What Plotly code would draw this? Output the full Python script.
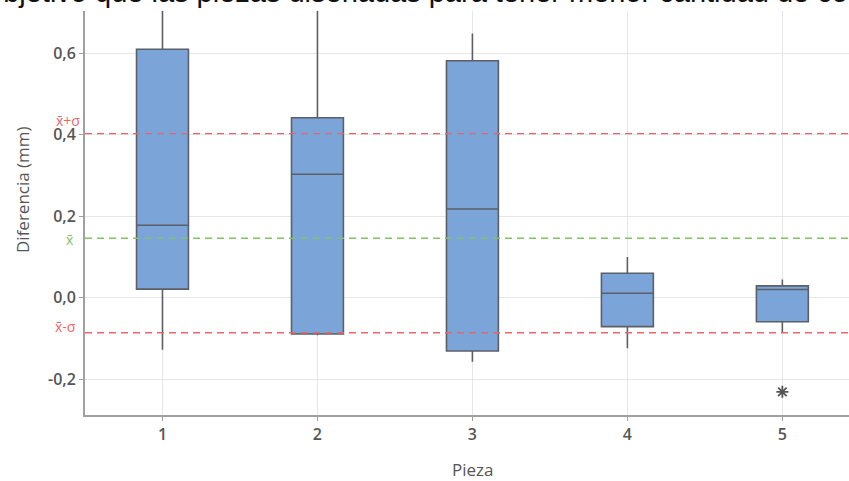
import plotly.graph_objects as go

# ---- data ----
piezas = [1, 2, 3, 4, 5]
q1 = [0.021, -0.089, -0.131, -0.071, -0.059]
mediana = [0.178, 0.303, 0.218, 0.011, 0.020]
q3 = [0.610, 0.442, 0.582, 0.060, 0.029]
bigote_inf = [-0.128, -0.092, -0.157, -0.124, -0.086]
bigote_sup = [0.80, 0.80, 0.649, 0.100, 0.045]
atipico_x = [5]
atipico_y = [-0.231]

media = 0.146
media_mas_sigma = 0.403
media_menos_sigma = -0.086

y_ticks = [-0.2, 0.0, 0.2, 0.4, 0.6]
y_ticktext = ["-0,2", "0,0", "0,2", "0,4", "0,6"]
x_ticktext = ["1", "2", "3", "4", "5"]

GRAY = "#555555"
RED = "#ec6466"
GREEN = "#82c262"
W, H = 849, 481
ML, MR, MT, MB = 85, 0, 11, 66
PW, PH = W - ML - MR, H - MT - MB

fig = go.Figure()

fig.add_trace(go.Box(
    x=piezas, q1=q1, median=mediana, q3=q3,
    lowerfence=bigote_inf, upperfence=bigote_sup,
    width=0.335, whiskerwidth=0,
    fillcolor="#7ba5d9", line=dict(color="#5c5f66", width=1.6),
    boxpoints=False, showlegend=False, hoverinfo="skip",
))

fig.add_trace(go.Scatter(
    x=atipico_x, y=atipico_y, mode="markers",
    marker=dict(symbol="asterisk-open", size=10, color="#555555",
                line=dict(color="#555555", width=1.8)),
    showlegend=False, hoverinfo="skip",
))

for val, col in [(media_mas_sigma, RED), (media, GREEN), (media_menos_sigma, RED)]:
    fig.add_shape(type="line", xref="paper", yref="y", x0=0, x1=1, y0=val, y1=val,
                  line=dict(color=col, width=1.4, dash="7px,5px"), layer="above")

labels = [("x̄+σ", media_mas_sigma, RED, 13, 82), ("x̄", media, GREEN, -1, 76),
          ("x̄-σ", media_menos_sigma, RED, 6, 78)]
for txt, val, col, ys, xr in labels:
    fig.add_annotation(text=txt, xref="paper", yref="y", x=(xr - ML) / PW, y=val,
                       xanchor="right", yanchor="middle", yshift=ys, showarrow=False,
                       font=dict(family="Open Sans", size=14, color=col))

# y-axis title
fig.add_annotation(text="Diferencia (mm)", xref="paper", yref="paper",
                   x=(23 - ML) / PW, y=(H - MB - 190) / PH,
                   textangle=-90, showarrow=False, xanchor="center", yanchor="middle",
                   font=dict(family="Open Sans", size=17, color=GRAY))

# x-axis title
fig.add_annotation(text="Pieza", xref="paper", yref="paper",
                   x=(472 - ML) / PW, y=-(470 - (H - MB)) / PH,
                   showarrow=False, xanchor="center", yanchor="middle",
                   font=dict(family="Open Sans", size=17, color=GRAY))

# cropped text at the top of the picture
fig.add_annotation(text="objetivo que las piezas diseñadas para tener menor cantidad de co",
                   xref="paper", yref="paper", x=(-15 - ML) / PW, y=1,
                   xanchor="left", yanchor="bottom", yshift=1, showarrow=False,
                   font=dict(family="Liberation Sans", size=29, color="#111111"))

fig.update_layout(
    width=W, height=H, margin=dict(l=ML, r=MR, t=MT, b=MB),
    plot_bgcolor="white", paper_bgcolor="white",
    font=dict(family="Open Sans", color=GRAY),
    xaxis=dict(range=[0.5, 5.43], tickmode="array", tickvals=piezas, ticktext=x_ticktext,
               showgrid=True, gridcolor="#e6e6e6", gridwidth=1.2,
               showline=True, linecolor="#a0a0a0", linewidth=2,
               ticks="outside", ticklen=4, tickcolor="#a0a0a0",
               tickfont=dict(size=16, color=GRAY, weight=600), zeroline=False),
    yaxis=dict(range=[-0.288, 0.704], tickmode="array", tickvals=y_ticks, ticktext=y_ticktext,
               showgrid=True, gridcolor="#e6e6e6", gridwidth=1.2,
               showline=True, linecolor="#a0a0a0", linewidth=2,
               ticks="outside", ticklen=4, tickcolor="#a0a0a0",
               tickfont=dict(size=16, color=GRAY, weight=600), zeroline=False),
)

fig.write_html("out.html")
